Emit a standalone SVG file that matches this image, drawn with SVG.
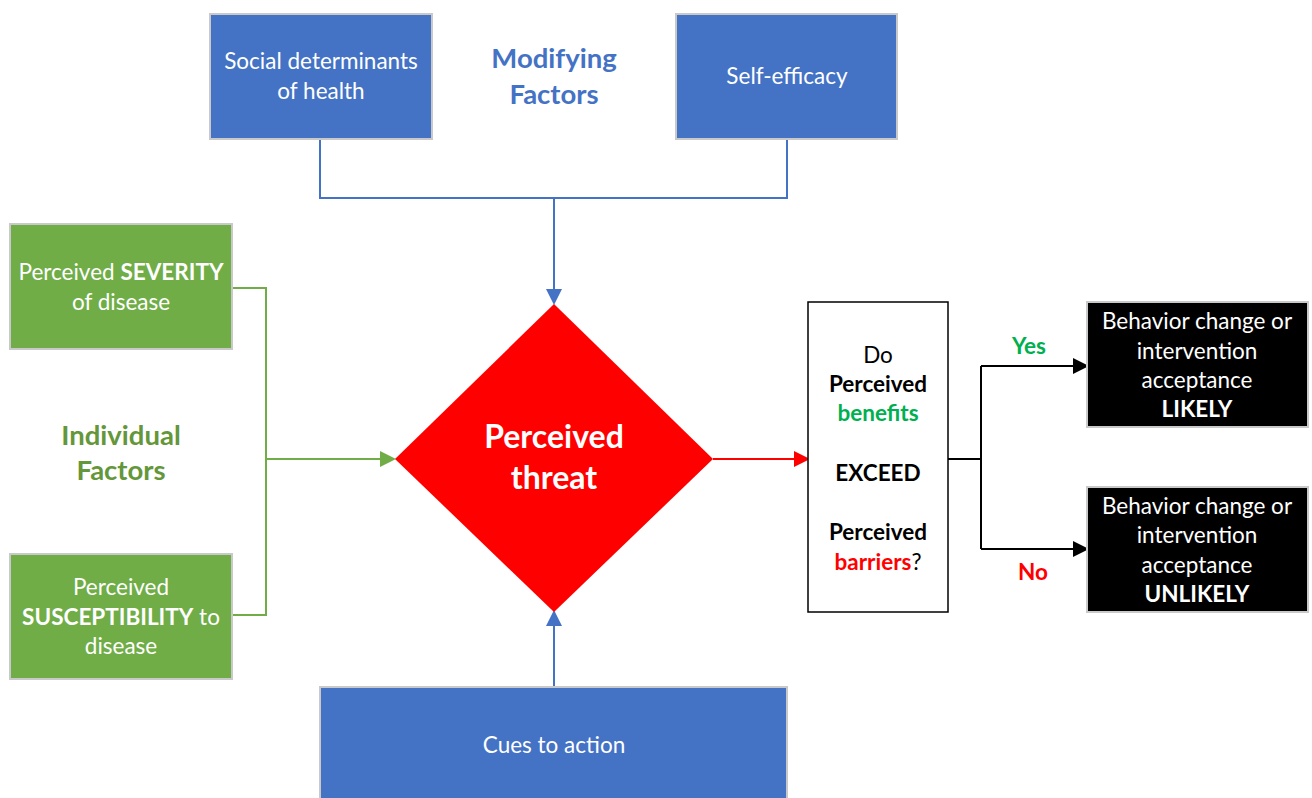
<svg xmlns="http://www.w3.org/2000/svg" width="1312" height="798" viewBox="0 0 1312 798">
<style>
text{font-family:Lato,"Open Sans","Liberation Sans",sans-serif;text-anchor:middle}
.w{fill:#fff;font-size:22.5px}
.b{font-weight:bold}
.blue{fill:#4472C4;stroke:#c9c9c9;stroke-width:2}
.green{fill:#70AD47;stroke:#c9c9c9;stroke-width:2}
.black{fill:#000;stroke:#c9c9c9;stroke-width:2}
.k{fill:#000;font-size:22.5px}
</style>
<defs>
<marker id="ab" markerWidth="8" markerHeight="8" refX="7" refY="4" orient="auto" markerUnits="strokeWidth"><path d="M0,0 L8,4 L0,8 z" fill="#4472C4"/></marker>
<marker id="ag" markerWidth="8" markerHeight="8" refX="7" refY="4" orient="auto" markerUnits="strokeWidth"><path d="M0,0 L8,4 L0,8 z" fill="#70AD47"/></marker>
<marker id="ar" markerWidth="8" markerHeight="8" refX="7" refY="4" orient="auto" markerUnits="strokeWidth"><path d="M0,0 L8,4 L0,8 z" fill="#FF0000"/></marker>
<marker id="ak" markerWidth="8" markerHeight="8" refX="7" refY="4" orient="auto" markerUnits="strokeWidth"><path d="M0,0 L8,4 L0,8 z" fill="#000"/></marker>
</defs>
<rect width="1312" height="798" fill="#fff"/>
<g id="connectors" fill="none" stroke-width="2">
<path d="M320,139 V198 H787 V139" stroke="#4472C4"/>
<path d="M554,198 V303" stroke="#4472C4" marker-end="url(#ab)"/>
<path d="M554,687 V612" stroke="#4472C4" marker-end="url(#ab)"/>
<path d="M232,288 H266 V615 H232" stroke="#70AD47"/>
<path d="M266,459 H394" stroke="#70AD47" marker-end="url(#ag)"/>
<path d="M713,459 H808" stroke="#FF0000" marker-end="url(#ar)"/>
<path d="M948,459 H981" stroke="#000"/>
<path d="M981,366 V549" stroke="#000"/>
<path d="M981,366 H1087" stroke="#000" marker-end="url(#ak)"/>
<path d="M981,549 H1087" stroke="#000" marker-end="url(#ak)"/>
</g>
<g id="social">
<rect class="blue" x="210" y="14" width="222" height="125"/>
<text class="w" x="321" y="69">Social determinants</text>
<text class="w" x="321" y="99">of health</text>
</g>
<g id="modifying">
<text x="554" y="68" font-size="27.5" font-weight="bold" fill="#4472C4">Modifying</text>
<text x="554" y="104" font-size="27.5" font-weight="bold" fill="#4472C4">Factors</text>
</g>
<g id="selfefficacy">
<rect class="blue" x="676" y="14" width="221" height="125"/>
<text class="w" x="787" y="84">Self-efficacy</text>
</g>
<g id="severity">
<rect class="green" x="10" y="224" width="222" height="125"/>
<text class="w" x="121" y="280">Perceived <tspan class="b">SEVERITY</tspan></text>
<text class="w" x="121" y="310">of disease</text>
</g>
<g id="individual">
<text x="121" y="445" font-size="27.5" font-weight="bold" fill="#64963A">Individual</text>
<text x="121" y="480" font-size="27.5" font-weight="bold" fill="#64963A">Factors</text>
</g>
<g id="susceptibility">
<rect class="green" x="10" y="554" width="222" height="125"/>
<text class="w" x="121" y="595">Perceived</text>
<text class="w" x="121" y="625"><tspan class="b">SUSCEPTIBILITY</tspan> to</text>
<text class="w" x="121" y="654">disease</text>
</g>
<g id="threat">
<polygon points="554,304 713,459 554,612 395,459" fill="#FF0000"/>
<text x="554" y="448" font-size="32" font-weight="bold" fill="#fff">Perceived</text>
<text x="554" y="489" font-size="32" font-weight="bold" fill="#fff">threat</text>
</g>
<g id="cues">
<rect class="blue" x="320" y="687" width="467" height="115"/>
<text class="w" x="554" y="753">Cues to action</text>
</g>
<g id="decision">
<rect x="808" y="302" width="140" height="310" fill="#fff" stroke="#000" stroke-width="1.5"/>
<text class="k" x="878" y="363">Do</text>
<text class="k b" x="878" y="392">Perceived</text>
<text class="b" x="878" y="421" font-size="22.5" fill="#00B050">benefits</text>
<text class="k b" x="878" y="481">EXCEED</text>
<text class="k b" x="878" y="540">Perceived</text>
<text class="k" x="878" y="570"><tspan class="b" fill="#FF0000">barriers</tspan>?</text>
</g>
<g id="yes">
<text x="1029" y="354" font-size="22.5" font-weight="bold" fill="#00B050">Yes</text>
</g>
<g id="no">
<text x="1033" y="580" font-size="22.5" font-weight="bold" fill="#FF0000">No</text>
</g>
<g id="likely">
<rect class="black" x="1087" y="302" width="221" height="125"/>
<text class="w" x="1197" y="329">Behavior change or</text>
<text class="w" x="1197" y="359">intervention</text>
<text class="w" x="1197" y="388">acceptance</text>
<text class="w b" x="1197" y="417">LIKELY</text>
</g>
<g id="unlikely">
<rect class="black" x="1087" y="487" width="221" height="125"/>
<text class="w" x="1197" y="514">Behavior change or</text>
<text class="w" x="1197" y="543">intervention</text>
<text class="w" x="1197" y="573">acceptance</text>
<text class="w b" x="1197" y="602">UNLIKELY</text>
</g>
</svg>
